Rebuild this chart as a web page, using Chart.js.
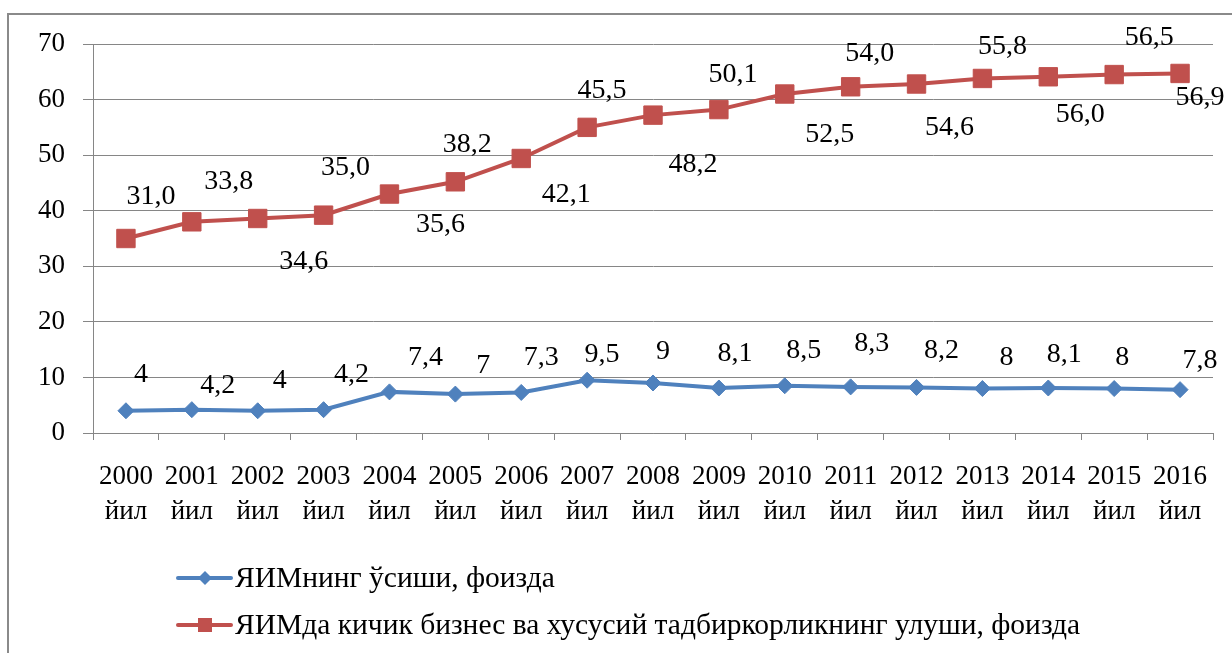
<!DOCTYPE html>
<html>
<head>
<meta charset="utf-8">
<script src="https://cdn.jsdelivr.net/npm/chart.js@4/dist/chart.umd.min.js"></script>
<style>
  html, body { margin: 0; padding: 0; background: #fff; }
  canvas { display: block; }
</style>
</head>
<body>
<canvas id="shareChart" width="1232" height="653"></canvas>
<script>
// data
const years = ['2000', '2001', '2002', '2003', '2004', '2005', '2006', '2007', '2008',
    '2009', '2010', '2011', '2012', '2013', '2014', '2015', '2016'];
const yearWord = 'йил';
const gdpGrowth = [4, 4.2, 4, 4.2, 7.4, 7, 7.3, 9.5, 9, 8.1, 8.5, 8.3, 8.2, 8, 8.1, 8, 7.8];
const smallBizShare = [31.0, 33.8, 34.6, 35.0, 35.6, 38.2, 42.1, 45.5, 48.2, 50.1, 52.5,
    54.0, 54.6, 55.8, 56.0, 56.5, 56.9];
const yTicks = [0, 10, 20, 30, 40, 50, 60, 70];
const seriesNames = [
    'ЯИМнинг ўсиши, фоизда',
    'ЯИМда кичик бизнес ва хусусий тадбиркорликнинг улуши, фоизда',
];

// where each value label sits relative to its point (dx, dy)
const blueLabelShift = [[15, -36], [26, -24], [22, -30], [28, -35], [36, -34], [28, -28], [20, -35],
    [15, -26], [10, -31], [16, -34], [19, -35], [21, -43], [25, -37], [24, -31], [16, -33], [8, -31], [20, -29]];
const redLabelShift = [[25, -42], [37, -40], [46, 43], [22, -48], [51, 31], [12, -37], [45, 36],
    [15, -37], [40, 50], [14, -35], [45, 41], [19, -33], [33, 44], [20, -32], [32, 38], [35, -37], [20, 24]];

const BLUE = '#4F81BD';
const RED = '#C0504D';
const AXIS_GREY = '#868686';
const FONT_FAMILY = "'Liberation Serif', 'Times New Roman', serif";

const fmtComma = (v, digits) => (digits == null ? String(v) : v.toFixed(digits)).replace('.', ',');

// grey frame round the whole chart
const framePlugin = {
    id: 'frame',
    beforeDraw(chart) {
        const ctx = chart.ctx;
        ctx.save();
        ctx.fillStyle = '#fff';
        ctx.fillRect(0, 0, chart.width, chart.height);
        ctx.strokeStyle = '#8a8a8a';
        ctx.lineWidth = 2;
        ctx.strokeRect(8, 14, chart.width + 20, chart.height + 20);
        ctx.restore();
    },
};

// value labels next to each point
const valueLabelPlugin = {
    id: 'valueLabels',
    afterDatasetsDraw(chart) {
        const ctx = chart.ctx;
        const shifts = [blueLabelShift, redLabelShift];
        const digits = [null, 1];
        ctx.save();
        ctx.font = '28px ' + FONT_FAMILY;
        ctx.fillStyle = '#000';
        ctx.textAlign = 'center';
        ctx.textBaseline = 'middle';
        chart.data.datasets.forEach((ds, di) => {
            const meta = chart.getDatasetMeta(di);
            meta.data.forEach((pt, i) => {
                const [dx, dy] = shifts[di][i];
                ctx.fillText(fmtComma(ds.data[i], digits[di]), pt.x + dx, pt.y + dy);
            });
        });
        ctx.restore();
    },
};

// legend stacked under the plot, left-aligned
const legendPlugin = {
    id: 'sideLegend',
    afterDraw(chart) {
        const ctx = chart.ctx;
        const rows = [578, 625];
        ctx.save();
        ctx.font = '29.5px ' + FONT_FAMILY;
        ctx.textBaseline = 'middle';
        ctx.textAlign = 'left';
        chart.data.datasets.forEach((ds, di) => {
            const y = rows[di];
            ctx.strokeStyle = ds.borderColor;
            ctx.lineWidth = 4;
            ctx.lineCap = 'round';
            ctx.beginPath();
            ctx.moveTo(178, y);
            ctx.lineTo(231, y);
            ctx.stroke();
            ctx.fillStyle = ds.borderColor;
            ctx.beginPath();
            if (ds.pointStyle === 'rectRot') {
                ctx.moveTo(205, y - 7);
                ctx.lineTo(212, y);
                ctx.lineTo(205, y + 7);
                ctx.lineTo(198, y);
                ctx.closePath();
            } else {
                ctx.rect(198, y - 7, 14, 14);
            }
            ctx.fill();
            ctx.fillStyle = '#000';
            ctx.fillText(ds.label, 235, y + 1);
        });
        ctx.restore();
    },
};

const ctx = document.getElementById('shareChart').getContext('2d');

new Chart(ctx, {
    type: 'line',
    data: {
        labels: years.map(y => [y, yearWord]),
        datasets: [
            {
                label: seriesNames[0],
                data: gdpGrowth,
                borderColor: BLUE,
                backgroundColor: BLUE,
                borderWidth: 4,
                pointStyle: 'rectRot',
                pointRadius: 8,
                pointBorderWidth: 1,
                pointBackgroundColor: BLUE,
                pointBorderColor: BLUE,
                fill: false,
                tension: 0,
            },
            {
                label: seriesNames[1],
                data: smallBizShare,
                borderColor: RED,
                backgroundColor: RED,
                borderWidth: 4,
                pointStyle: 'rect',
                pointRadius: 13,
                pointBorderWidth: 1,
                pointBackgroundColor: RED,
                pointBorderColor: RED,
                fill: false,
                tension: 0,
            },
        ],
    },
    options: {
        responsive: false,
        animation: false,
        devicePixelRatio: 1,
        layout: {
            padding: { left: 0, top: 44, right: 19, bottom: 120 },
        },
        plugins: {
            legend: { display: false },
            tooltip: { enabled: false },
        },
        scales: {
            x: {
                type: 'category',
                offset: true,
                grid: {
                    offset: true,
                    drawOnChartArea: false,
                    drawTicks: true,
                    tickLength: 7,
                    color: AXIS_GREY,
                },
                border: { color: AXIS_GREY, width: 1 },
                ticks: {
                    color: '#000',
                    autoSkip: false,
                    maxRotation: 0,
                    padding: 19,
                    font: { family: FONT_FAMILY, size: 27, lineHeight: 1.3 },
                },
                afterFit(scale) {
                    scale.height = 100;
                },
            },
            y: {
                stacked: true,
                min: 0,
                max: 70,
                afterBuildTicks(scale) {
                    scale.ticks = yTicks.map(v => ({ value: v }));
                },
                grid: {
                    color: AXIS_GREY,
                    tickLength: 10,
                    lineWidth: 1,
                },
                border: { color: AXIS_GREY, width: 1 },
                ticks: {
                    color: '#000',
                    padding: 18,
                    font: { family: FONT_FAMILY, size: 27 },
                },
                afterFit(scale) {
                    scale.width = 93;
                },
            },
        },
    },
    plugins: [framePlugin, valueLabelPlugin, legendPlugin],
});
</script>
</body>
</html>
